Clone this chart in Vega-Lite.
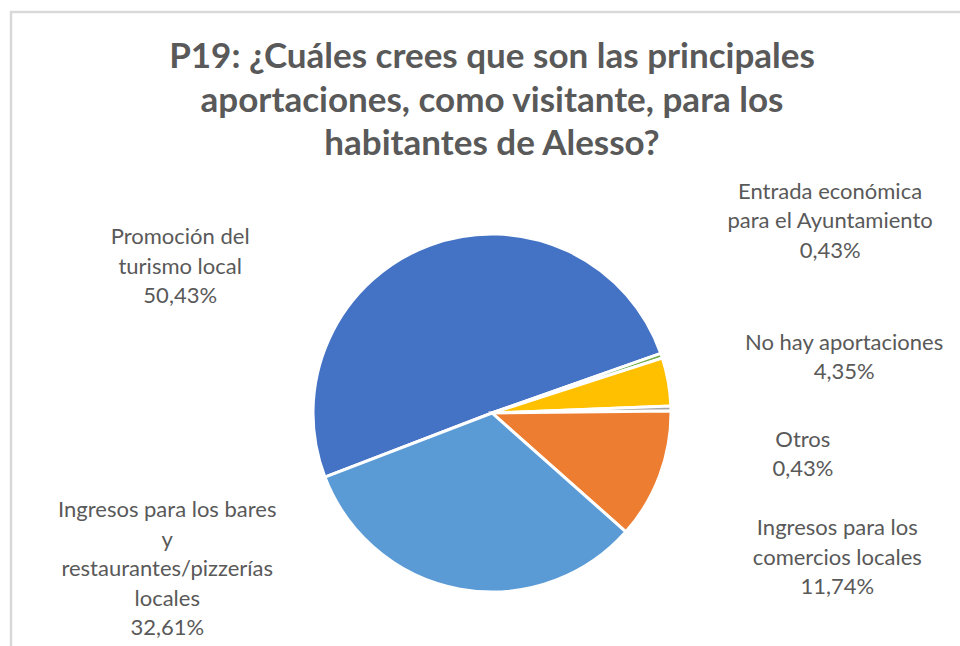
{
  "$schema": "https://vega.github.io/schema/vega-lite/v6.json",
  "autosize": {"type": "none"},
  "width": 962,
  "height": 802,
  "padding": {"left": 11, "top": 12, "right": -13, "bottom": -168},
  "background": "white",
  "view": {"stroke": "#d9d9d9", "strokeWidth": 2.5},
  "config": {"view": {"stroke": "#d9d9d9", "strokeWidth": 2.5}, "style": {"view": {"stroke": "#d9d9d9", "strokeWidth": 2.5}}},
  "title": {
    "text": ["P19: ¿Cuáles crees que son las principales", "aportaciones, como visitante, para los", "habitantes de Alesso?"],
    "font": "Lato",
    "fontSize": 35,
    "fontWeight": "bold",
    "color": "#595959",
    "lineHeight": 43.5,
    "anchor": "middle",
    "frame": "group",
    "offset": -150
  },
  "data": {
    "values": [
      {"categoria": "Promoción del turismo local", "valor": 50.43, "orden": 1, "etiqueta": "Promoción del\nturismo local\n50,43%"},
      {"categoria": "Entrada económica para el Ayuntamiento", "valor": 0.43, "orden": 2, "etiqueta": "Entrada económica\npara el Ayuntamiento\n0,43%"},
      {"categoria": "No hay aportaciones", "valor": 4.35, "orden": 3, "etiqueta": "No hay aportaciones\n4,35%"},
      {"categoria": "Otros", "valor": 0.43, "orden": 4, "etiqueta": "Otros\n0,43%"},
      {"categoria": "Ingresos para los comercios locales", "valor": 11.74, "orden": 5, "etiqueta": "Ingresos para los\ncomercios locales\n11,74%"},
      {"categoria": "Ingresos para los bares y restaurantes/pizzerías locales", "valor": 32.61, "orden": 6, "etiqueta": "Ingresos para los bares\ny\nrestaurantes/pizzerías\nlocales\n32,61%"}
    ]
  },
  "layer": [
    {
      "mark": {"type": "arc", "outerRadius": 179, "stroke": "white", "strokeWidth": 3},
      "encoding": {
        "theta": {"field": "valor", "type": "quantitative", "stack": true, "scale": {"range": [4.3459, 10.6291]}},
        "color": {
          "field": "categoria",
          "type": "nominal",
          "scale": {
            "domain": ["Promoción del turismo local", "Entrada económica para el Ayuntamiento", "No hay aportaciones", "Otros", "Ingresos para los comercios locales", "Ingresos para los bares y restaurantes/pizzerías locales"],
            "range": ["#4472C4", "#70AD47", "#FFC000", "#A5A5A5", "#ED7D31", "#5B9BD5"]
          },
          "legend": null
        },
        "order": {"field": "orden", "type": "quantitative"}
      }
    },
    {
      "transform": [{"filter": "datum.orden == 1"}],
      "mark": {"type": "text", "theta": 5.2260, "radius": 358, "font": "Lato", "fontSize": 22, "color": "#595959", "lineHeight": 29.5, "lineBreak": "\n", "align": "center", "baseline": "middle"},
      "encoding": {"text": {"field": "etiqueta", "type": "nominal"}}
    },
    {
      "transform": [{"filter": "datum.orden == 2"}],
      "mark": {"type": "text", "theta": 0.9915, "radius": 404, "font": "Lato", "fontSize": 22, "color": "#595959", "lineHeight": 29.5, "lineBreak": "\n", "align": "center", "baseline": "middle"},
      "encoding": {"text": {"field": "etiqueta", "type": "nominal"}}
    },
    {
      "transform": [{"filter": "datum.orden == 3"}],
      "mark": {"type": "text", "theta": 1.3745, "radius": 359, "font": "Lato", "fontSize": 22, "color": "#595959", "lineHeight": 29.5, "lineBreak": "\n", "align": "center", "baseline": "middle"},
      "encoding": {"text": {"field": "etiqueta", "type": "nominal"}}
    },
    {
      "transform": [{"filter": "datum.orden == 4"}],
      "mark": {"type": "text", "theta": 1.6574, "radius": 312, "font": "Lato", "fontSize": 22, "color": "#595959", "lineHeight": 29.5, "lineBreak": "\n", "align": "center", "baseline": "middle"},
      "encoding": {"text": {"field": "etiqueta", "type": "nominal"}}
    },
    {
      "transform": [{"filter": "datum.orden == 5"}],
      "mark": {"type": "text", "theta": 1.8925, "radius": 364, "font": "Lato", "fontSize": 22, "color": "#595959", "lineHeight": 29.5, "lineBreak": "\n", "align": "center", "baseline": "middle"},
      "encoding": {"text": {"field": "etiqueta", "type": "nominal"}}
    },
    {
      "transform": [{"filter": "datum.orden == 6"}],
      "mark": {"type": "text", "theta": 4.4216, "radius": 339, "font": "Lato", "fontSize": 22, "color": "#595959", "lineHeight": 29.5, "lineBreak": "\n", "align": "center", "baseline": "middle"},
      "encoding": {"text": {"field": "etiqueta", "type": "nominal"}}
    }
  ]
}
